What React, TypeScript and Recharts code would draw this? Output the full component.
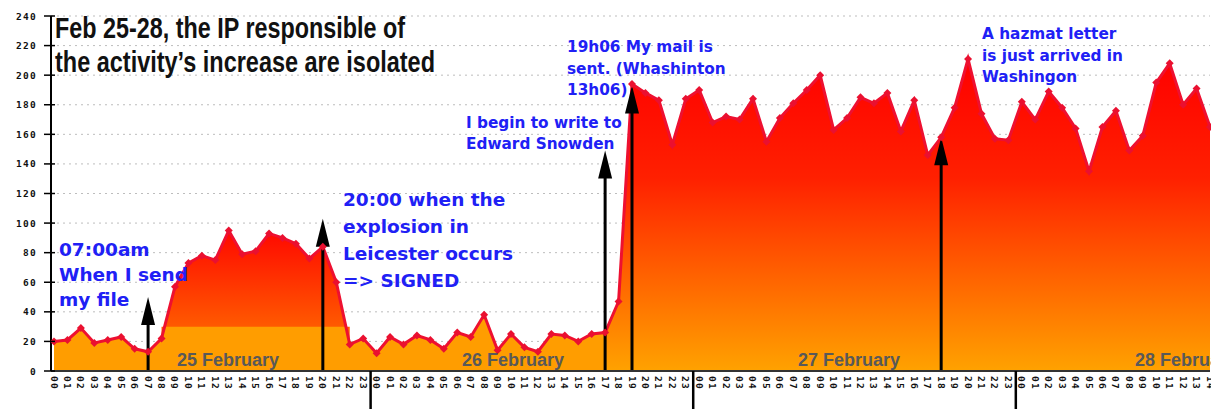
import { ComposedChart, Area, Line, XAxis, YAxis, CartesianGrid, ReferenceLine } from 'recharts';

const days = ['25', '26', '27', '28'];
const hourLabels = [
  '00', '01', '02', '03', '04', '05', '06', '07', '08', '09', '10', '11',
  '12', '13', '14', '15', '16', '17', '18', '19', '20', '21', '22', '23',
];

// hourly hits, 25 Feb 00h -> 28 Feb 14h
const hits = [
  20, 21, 29, 19, 21, 23, 15, 13, 22, 57, 73, 78, 75, 95, 79, 81, 93, 90, 86, 76, 84, 60, 18, 22,
  12, 23, 18, 24, 21, 15, 26, 23, 38, 14, 25, 16, 13, 25, 24, 20, 25, 26, 47, 194,
  188, 183, 153, 184,
  190, 168, 172, 170, 184, 155, 171, 181, 190, 200, 163, 171, 185, 181, 188, 162, 183, 146, 158, 178, 211, 174, 157, 156,
  182, 170, 189, 178, 164, 135, 165, 176, 149, 159, 195, 208, 180, 191, 165,
];

const yTicks = [0, 20, 40, 60, 80, 100, 120, 140, 160, 180, 200, 220, 240];

const dayTitles = ['25 February', '26 February', '27 February', '28 February'];

const arrows = [
  { at: '25-07', tip: 50 },
  { at: '25-20', tip: 103 },
  { at: '26-17', tip: 149 },
  { at: '26-19', tip: 193 },
  { at: '27-18', tip: 158 },
];

const slots = days.flatMap((d) => hourLabels.map((h) => `${d}-${h}`)).slice(0, hits.length);

const data = slots.map((key, i) => ({
  key,
  hits: hits[i],
  burstA: i >= 8 && i <= 22 ? hits[i] : null,
  burstB: i >= 41 ? hits[i] : null,
}));

const BLUE = '#2020f5';
const noteFont = { fontFamily: 'DejaVu Sans', fontWeight: 'bold' as const };

function HourTick(props: any) {
  const { x, y, payload } = props;
  const value = String(payload.value);
  const hour = value.slice(3);
  return (
    <g>
      {hour === '00' && value !== '25-00' && (
        <line x1={x - 6} x2={x - 6} y1={y} y2={y + 40} stroke="#000" strokeWidth={2.5} />
      )}
      <text
        transform={`translate(${x},${y + 5}) rotate(90)`}
        fontFamily="DejaVu Sans Mono"
        fontWeight="bold"
        fontSize={9.5}
        letterSpacing={1.3}
        dominantBaseline="central"
        fill="#111"
      >
        {hour}
      </text>
    </g>
  );
}

function CountTick(props: any) {
  const { x, y, payload } = props;
  return (
    <g>
      <line x1={x - 7} x2={x + 4} y1={y} y2={y} stroke="#000" strokeWidth={1.5} />
      <text
        x={x - 14}
        y={y}
        textAnchor="end"
        dominantBaseline="central"
        fontFamily="DejaVu Sans Mono"
        fontWeight="bold"
        fontSize={9.5}
        letterSpacing={1.3}
        fill="#111"
      >
        {payload.value}
      </text>
    </g>
  );
}

function Arrow(props: any) {
  const { x1, y1, y2 } = props;
  const top = Math.min(y1, y2);
  const bottom = Math.max(y1, y2);
  return (
    <g>
      <line x1={x1} x2={x1} y1={bottom} y2={top + 20} stroke="#000" strokeWidth={3} />
      <polygon points={`${x1},${top} ${x1 - 7},${top + 28} ${x1 + 7},${top + 28}`} fill="#000" />
    </g>
  );
}

function Marker(props: any) {
  const { cx, cy, index } = props;
  if (cx == null || cy == null) return <g key={index} />;
  const r = 4;
  return (
    <polygon
      key={index}
      points={`${cx},${cy - r} ${cx + r},${cy} ${cx},${cy + r} ${cx - r},${cy}`}
      fill="#ea1030"
    />
  );
}

function Notes() {
  return (
    <svg
      width={1211}
      height={409}
      style={{ position: 'absolute', left: 0, top: 0, pointerEvents: 'none' }}
    >
      <g fontFamily="Liberation Sans" fontWeight="bold" fontSize={30} fill="#111">
        <text x={55} y={38} textLength={350} lengthAdjust="spacingAndGlyphs">
          Feb 25-28, the IP responsible of
        </text>
        <text x={55} y={72} textLength={380} lengthAdjust="spacingAndGlyphs">
          the activity’s increase are isolated
        </text>
      </g>

      <g {...noteFont} fontSize={18.5} fill={BLUE}>
        <text x={59} y={256}>07:00am</text>
        <text x={59} y={281}>When I send</text>
        <text x={59} y={306}>my file</text>
        <text x={343} y={206}>20:00 when the</text>
        <text x={343} y={233}>explosion in</text>
        <text x={343} y={260}>Leicester occurs</text>
        <text x={343} y={287}>=&gt; SIGNED</text>
      </g>

      <g {...noteFont} fontSize={15.3} fill={BLUE}>
        <text x={567} y={52}>19h06 My mail is</text>
        <text x={567} y={73.5}>sent. (Whashinton</text>
        <text x={567} y={95}>13h06)</text>
        <text x={466} y={128}>I begin to write to</text>
        <text x={466} y={149}>Edward Snowden</text>
        <text x={982} y={39}>A hazmat letter</text>
        <text x={982} y={61}>is just arrived in</text>
        <text x={982} y={82}>Washingon</text>
      </g>

      <g fontFamily="Liberation Sans" fontWeight="bold" fontSize={18} fill="#595959">
        <text x={177} y={366}>{dayTitles[0]}</text>
        <text x={462} y={366}>{dayTitles[1]}</text>
        <text x={798} y={366}>{dayTitles[2]}</text>
        <text x={1135} y={366}>{dayTitles[3]}</text>
      </g>
    </svg>
  );
}

export default function App() {
  return (
    <div style={{ position: 'absolute', left: 0, top: 0, width: 1211, height: 409, background: '#fff', overflow: 'hidden' }}>
      <ComposedChart width={1211} height={409} data={data} margin={{ top: 16, right: 1, left: 0, bottom: 0 }}>
        <defs>
          <linearGradient id="burstA" x1="0" y1="0" x2="0" y2="1">
            <stop offset="0%" stopColor="#ff0800" />
            <stop offset="85%" stopColor="#ff5a00" />
            <stop offset="100%" stopColor="#ff6a00" />
          </linearGradient>
          <linearGradient id="burstB" x1="0" y1="0" x2="0" y2="1">
            <stop offset="0%" stopColor="#ff0000" />
            <stop offset="38%" stopColor="#ff2000" />
            <stop offset="100%" stopColor="#ffa200" />
          </linearGradient>
        </defs>
        <CartesianGrid vertical={false} stroke="#bdbdbd" strokeDasharray="2 4" />
        <XAxis
          dataKey="key"
          interval={0}
          height={38}
          tickSize={0}
          tickMargin={0}
          tickLine={false}
          tick={<HourTick />}
          padding={{ left: 3, right: 0 }}
          axisLine={{ stroke: '#333', strokeWidth: 2 }}
        />
        <YAxis
          domain={[0, 240]}
          ticks={yTicks}
          width={51}
          tickSize={0}
          tickMargin={0}
          tickLine={false}
          tick={<CountTick />}
          axisLine={{ stroke: '#000', strokeWidth: 2 }}
          allowDataOverflow
        />
        <Area dataKey="hits" type="linear" stroke="none" fill="#ff9d00" fillOpacity={1} isAnimationActive={false} />
        <Area
          dataKey="burstA"
          type="linear"
          baseValue={30}
          stroke="none"
          fill="url(#burstA)"
          fillOpacity={1}
          isAnimationActive={false}
        />
        <Area dataKey="burstB" type="linear" stroke="none" fill="url(#burstB)" fillOpacity={1} isAnimationActive={false} />
        <Line
          dataKey="hits"
          type="linear"
          stroke="#ee1030"
          strokeWidth={3}
          dot={(p: any) => <Marker key={p.index} {...p} />}
          activeDot={false}
          isAnimationActive={false}
        />
        {arrows.map((a) => (
          <ReferenceLine
            key={a.at}
            segment={[
              { x: a.at, y: 0 },
              { x: a.at, y: a.tip },
            ]}
            shape={(p: any) => <Arrow {...p} />}
          />
        ))}
      </ComposedChart>
      <Notes />
    </div>
  );
}
